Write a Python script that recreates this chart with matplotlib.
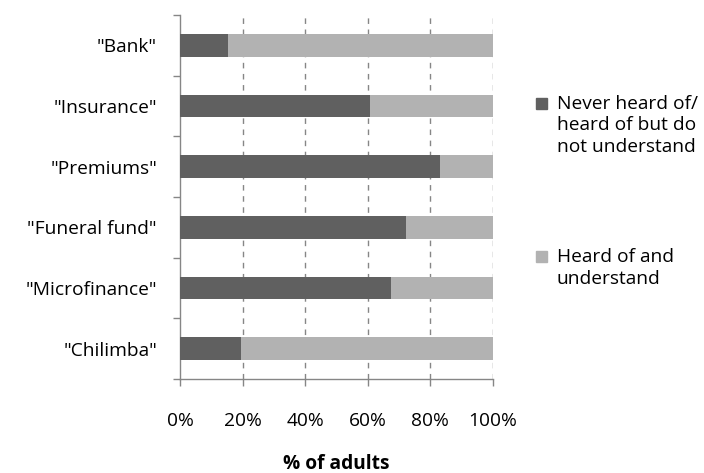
import numpy as np
import matplotlib.pyplot as plt
from matplotlib.ticker import FixedLocator, PercentFormatter

plt.rcParams['font.family'] = ['Open Sans', 'DejaVu Sans']

# survey terms, top to bottom
terms = ['"Bank"', '"Insurance"', '"Premiums"', '"Funeral fund"', '"Microfinance"', '"Chilimba"']
# share of adults who never heard of / do not understand the term (%)
not_understood = [15.2, 60.7, 83.0, 72.1, 67.4, 19.4]
# share who heard of and understand it (%)
understood = [100 - v for v in not_understood]

x_ticks = [0, 20, 40, 60, 80, 100]

dark = '#606060'
light = '#b2b2b2'
axis_grey = '#868686'
fs = 13.8

fig = plt.figure(figsize=(7.04, 4.73), dpi=100)
ax = fig.add_axes([0.2557, 0.1987, 0.4446, 0.7696])

y = np.arange(len(terms))
bar_h = 0.375
ax.barh(y, not_understood, height=bar_h, color=dark, zorder=3)
ax.barh(y, understood, left=not_understood, height=bar_h, color=light, zorder=3)

ax.set_xlim(0, 100)
ax.set_ylim(len(terms) - 0.5, -0.5)

# category boundaries get tick marks, centres get the labels
ax.yaxis.set_major_locator(FixedLocator(np.arange(-0.5, len(terms) + 0.5, 1)))
ax.yaxis.set_major_formatter(plt.NullFormatter())
ax.yaxis.set_minor_locator(FixedLocator(y))
ax.set_yticklabels(terms, minor=True)
ax.tick_params(axis='y', which='major', length=5, width=1, color=axis_grey, direction='out')
ax.tick_params(axis='y', which='minor', length=0, pad=16.5, labelsize=fs, labelcolor='black')

ax.set_xticks(x_ticks)
ax.xaxis.set_major_formatter(PercentFormatter(decimals=0))
ax.tick_params(axis='x', length=5, width=1, color=axis_grey, direction='out', pad=19, labelsize=fs)

for v in x_ticks[1:]:
    ax.axvline(v, color=axis_grey, lw=1, ls=(0, (4, 4)), zorder=1)

for side in ['top', 'right']:
    ax.spines[side].set_visible(False)
for side in ['left', 'bottom']:
    ax.spines[side].set_color(axis_grey)
    ax.spines[side].set_linewidth(1)

ax.set_xlabel('% of adults', fontsize=fs, fontweight='bold', labelpad=17)

# legend drawn by hand so the long label runs off the right edge
legend_items = [
    (dark, 104, ['Never heard of/', 'heard of but do', 'not understand']),
    (light, 257, ['Heard of and', 'understand']),
]
for color, top_y, lines in legend_items:
    fig.patches.append(plt.Rectangle((536 / 704, 1 - (top_y + 5) / 473), 11 / 704, 11 / 473,
                                     color=color, transform=fig.transFigure))
    for i, line in enumerate(lines):
        fig.text(557 / 704, 1 - (top_y + 21.5 * i) / 473, line,
                 fontsize=fs, va='center', ha='left')

fig.savefig('out.png', dpi=100)
